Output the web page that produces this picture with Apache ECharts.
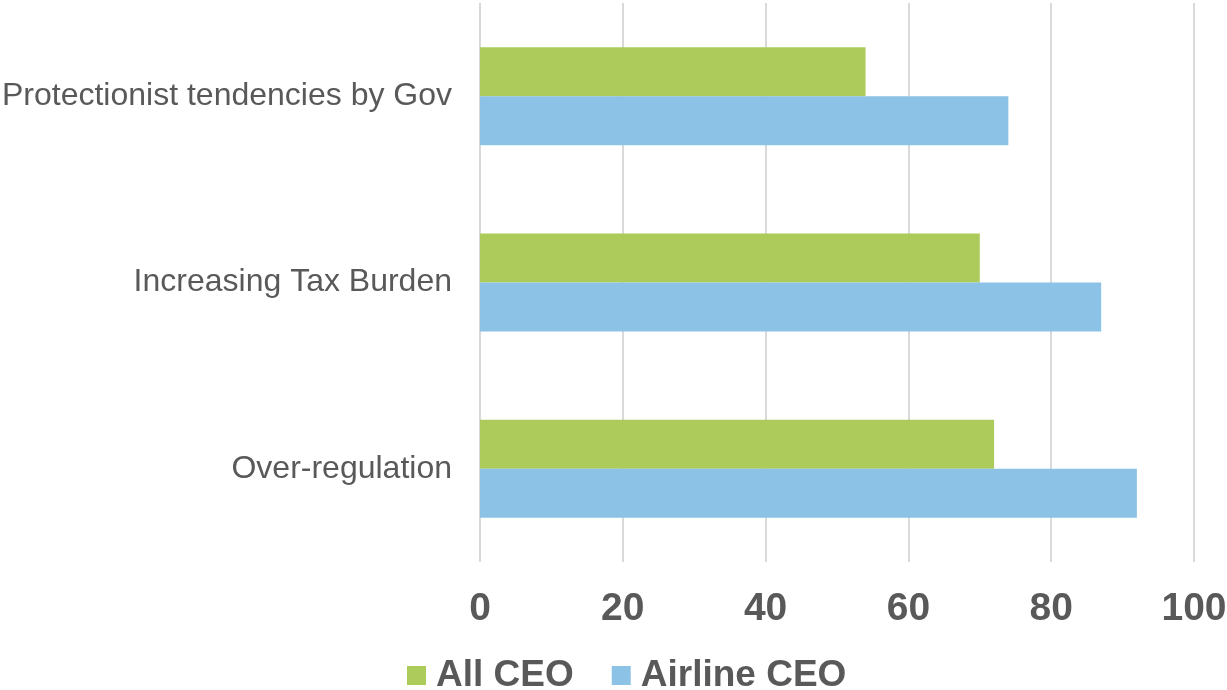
<!DOCTYPE html>
<html>
<head>
<meta charset="utf-8">
<script src="https://cdn.jsdelivr.net/npm/echarts@6/dist/echarts.min.js"></script>
<style>
  html, body { margin: 0; padding: 0; background: #fff; }
  #chart { width: 1227px; height: 690px; }
</style>
</head>
<body>
<div id="chart"></div>
<script>
const categories = ['Protectionist tendencies by Gov', 'Increasing Tax Burden', 'Over-regulation']
const allCeo = [54, 70, 72]
const airlineCeo = [74, 87, 92]
const xTicks = { min: 0, max: 100, interval: 20 }

const chart = echarts.init(document.getElementById('chart'))
const options = {
  animation: false,
  textStyle: { fontFamily: 'Liberation Sans, Arial, sans-serif' },
  grid: { left: 480, right: 33, top: 3, bottom: 128, containLabel: false, outerBoundsMode: 'none' },
  legend: {
    top: 652,
    left: 402,
    itemWidth: 19,
    itemHeight: 19,
    itemGap: 38,
    icon: 'rect',
    textStyle: { fontSize: 37, fontWeight: 'bold', color: '#595959', padding: [0, 0, 0, 5] },
    data: ['All CEO', 'Airline CEO'],
  },
  xAxis: {
    type: 'value',
    min: xTicks.min,
    max: xTicks.max,
    interval: xTicks.interval,
    axisLine: { show: false },
    axisTick: { show: false },
    splitLine: { lineStyle: { color: '#d9d9d9', width: 2 } },
    axisLabel: { fontSize: 39, fontWeight: 'bold', color: '#595959', margin: 28 },
  },
  yAxis: {
    type: 'category',
    inverse: true,
    data: categories,
    axisLine: { show: false },
    axisTick: { show: false },
    axisLabel: { fontSize: 32, color: '#595959', margin: 28 },
  },
  series: [
    {
      name: 'All CEO',
      type: 'bar',
      data: allCeo,
      barWidth: 49,
      barGap: '0%',
      itemStyle: { color: '#adcb5a' },
    },
    {
      name: 'Airline CEO',
      type: 'bar',
      data: airlineCeo,
      barWidth: 49,
      barGap: '0%',
      itemStyle: { color: '#8bc2e5' },
    },
  ],
}
chart.setOption(options)
window.addEventListener('resize', function () {
  chart && chart.resize()
})
</script>
</body>
</html>
